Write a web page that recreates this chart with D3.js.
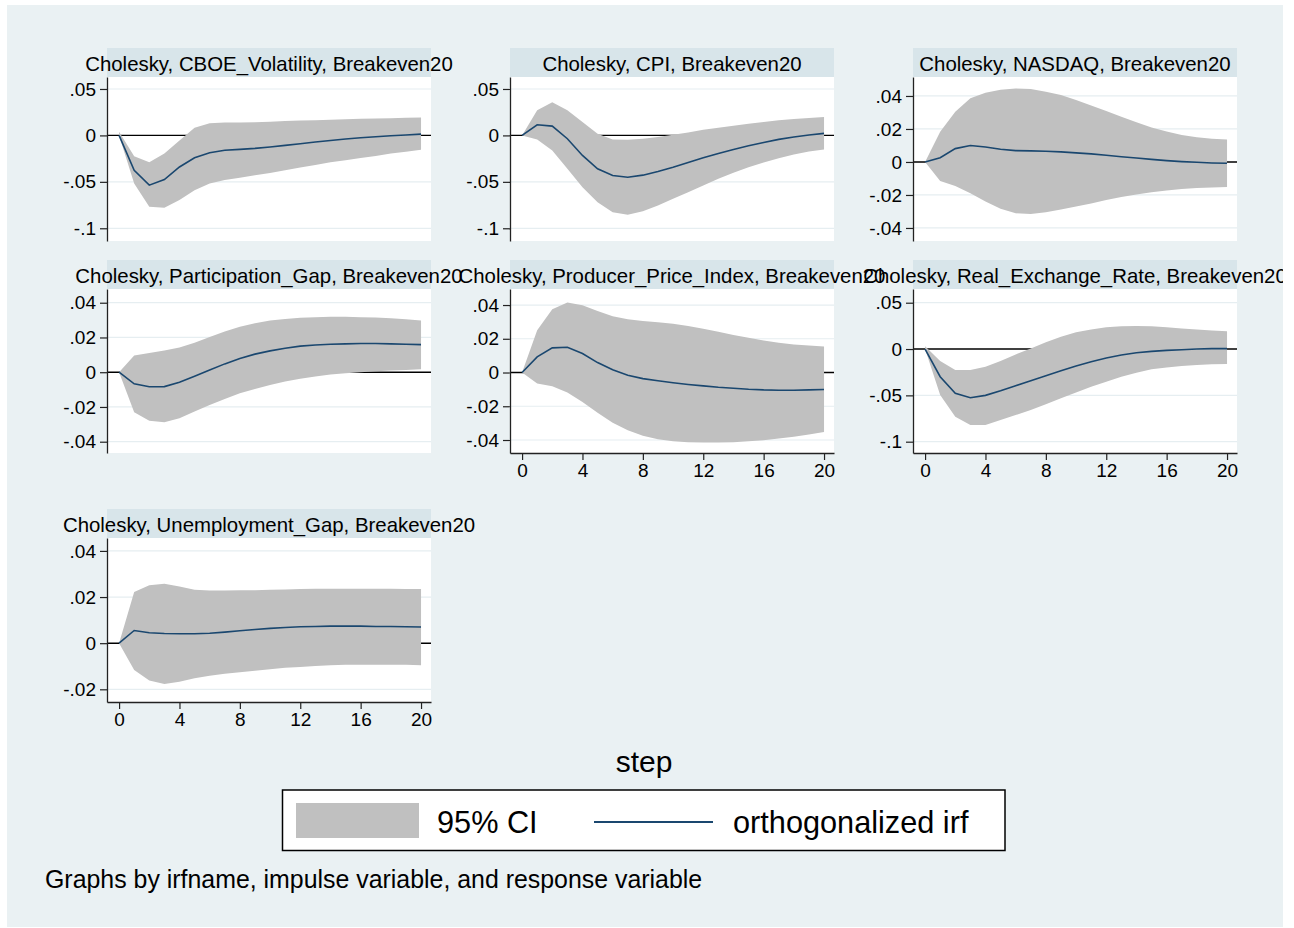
<!DOCTYPE html>
<html>
<head>
<meta charset="utf-8">
<script src="https://cdn.jsdelivr.net/npm/d3@7"></script>
<style>
  html, body { margin: 0; padding: 0; background: #ffffff; }
  svg { display: block; }
  text { font-family: "Liberation Sans", Arial, Helvetica, sans-serif; fill: #000; }
</style>
</head>
<body>
<svg id="chart" width="1294" height="928"></svg>
<script>
// ---------------- data ----------------
const steps = [0,1,2,3,4,5,6,7,8,9,10,11,12,13,14,15,16,17,18,19,20];
const xTicks = [0, 4, 8, 12, 16, 20];

const panelTitles = [
  "Cholesky, CBOE_Volatility, Breakeven20",
  "Cholesky, CPI, Breakeven20",
  "Cholesky, NASDAQ, Breakeven20",
  "Cholesky, Participation_Gap, Breakeven20",
  "Cholesky, Producer_Price_Index, Breakeven20",
  "Cholesky, Real_Exchange_Rate, Breakeven20",
  "Cholesky, Unemployment_Gap, Breakeven20"
];

// orthogonalized irf
const irfCBOE = [0, -0.0375, -0.0536, -0.0475, -0.034, -0.024, -0.0186, -0.016, -0.015, -0.014, -0.0125, -0.0107, -0.009, -0.0071, -0.0054, -0.0039, -0.0025, -0.0014, -0.0004, 0.0004, 0.0014];
const hiCBOE  = [0.004, -0.0225, -0.029, -0.0196, -0.0054, 0.0082, 0.0132, 0.0139, 0.0139, 0.0143, 0.0146, 0.0154, 0.016, 0.0164, 0.0168, 0.0175, 0.0179, 0.0182, 0.0186, 0.0189, 0.0193];
const loCBOE  = [0, -0.0518, -0.0768, -0.0779, -0.0696, -0.059, -0.0518, -0.048, -0.0457, -0.0429, -0.0404, -0.0375, -0.0346, -0.0318, -0.029, -0.0268, -0.0243, -0.0221, -0.0196, -0.0175, -0.0154];

const irfCPI = [0, 0.0115, 0.010, -0.0036, -0.0216, -0.036, -0.0432, -0.045, -0.0428, -0.0389, -0.0342, -0.0291, -0.0241, -0.0194, -0.0151, -0.0112, -0.0076, -0.0043, -0.0018, 0.0004, 0.0022];
const hiCPI  = [0, 0.027, 0.0356, 0.027, 0.0144, 0.0018, -0.0043, -0.0047, -0.0036, -0.0018, 0.0007, 0.0032, 0.0061, 0.0083, 0.0104, 0.0126, 0.0144, 0.0162, 0.0176, 0.0187, 0.0198];
const loCPI  = [0, -0.0043, -0.0162, -0.036, -0.0558, -0.072, -0.0827, -0.0853, -0.0817, -0.0755, -0.0683, -0.0612, -0.054, -0.0468, -0.0403, -0.0342, -0.0291, -0.0245, -0.0205, -0.0173, -0.0151];

const irfNASDAQ = [0, 0.0026, 0.0081, 0.01, 0.0091, 0.0077, 0.0069, 0.0067, 0.0065, 0.0061, 0.0055, 0.0049, 0.0041, 0.0032, 0.0024, 0.0016, 0.0008, 0.0002, -0.0002, -0.0006, -0.0008];
const hiNASDAQ  = [0, 0.0183, 0.0305, 0.0386, 0.042, 0.0437, 0.0445, 0.0443, 0.0426, 0.0406, 0.0376, 0.0343, 0.0309, 0.0274, 0.024, 0.0209, 0.0185, 0.0164, 0.015, 0.014, 0.0136];
const loNASDAQ  = [0, -0.0116, -0.0146, -0.0189, -0.024, -0.0284, -0.0311, -0.0315, -0.0305, -0.0288, -0.027, -0.0252, -0.0231, -0.0213, -0.0197, -0.0183, -0.0173, -0.0164, -0.0158, -0.0154, -0.0152];

const irfPart = [0, -0.0067, -0.0084, -0.0083, -0.0058, -0.0023, 0.0013, 0.0048, 0.0079, 0.0104, 0.0123, 0.0138, 0.015, 0.0157, 0.0161, 0.0163, 0.0165, 0.0165, 0.0163, 0.0161, 0.0159];
const hiPart  = [0, 0.0096, 0.0111, 0.0125, 0.0142, 0.0169, 0.0202, 0.0234, 0.0261, 0.0282, 0.0298, 0.0307, 0.0313, 0.0317, 0.0319, 0.0319, 0.0317, 0.0315, 0.0311, 0.0305, 0.0298];
const loPart  = [0, -0.023, -0.028, -0.0288, -0.0265, -0.0226, -0.0188, -0.0154, -0.0121, -0.0096, -0.0073, -0.0054, -0.0038, -0.0025, -0.0013, -0.0006, 0, 0.0006, 0.001, 0.0013, 0.0017];

const irfPPI = [0, 0.0093, 0.0146, 0.015, 0.0113, 0.0059, 0.0016, -0.0016, -0.0036, -0.0049, -0.0061, -0.0071, -0.0079, -0.0087, -0.0093, -0.0099, -0.0103, -0.0105, -0.0105, -0.0103, -0.0101];
const hiPPI  = [0, 0.0251, 0.0375, 0.0415, 0.0399, 0.0364, 0.0334, 0.0316, 0.0306, 0.0298, 0.0289, 0.0275, 0.0259, 0.0241, 0.0223, 0.0206, 0.019, 0.0176, 0.0166, 0.016, 0.0154];
const loPPI  = [0, -0.0065, -0.0081, -0.0119, -0.0174, -0.0239, -0.0298, -0.0342, -0.0375, -0.0395, -0.0407, -0.0413, -0.0415, -0.0415, -0.0413, -0.0407, -0.0401, -0.0391, -0.0381, -0.0368, -0.0352];

const irfRER = [0, -0.0299, -0.0478, -0.0525, -0.05, -0.045, -0.0396, -0.0342, -0.0288, -0.0234, -0.0183, -0.0137, -0.0097, -0.0065, -0.004, -0.0025, -0.0014, -0.0007, 0, 0.0004, 0.0004];
const hiRER  = [0.003, -0.013, -0.0227, -0.0227, -0.019, -0.013, -0.0058, 0.0007, 0.0072, 0.0133, 0.018, 0.0212, 0.0234, 0.0245, 0.0248, 0.0245, 0.0234, 0.0223, 0.0212, 0.0201, 0.0191];
const loRER  = [0, -0.0496, -0.073, -0.082, -0.082, -0.0766, -0.0712, -0.0658, -0.0597, -0.0532, -0.0468, -0.0406, -0.0353, -0.0299, -0.0255, -0.0219, -0.0198, -0.0183, -0.0173, -0.0165, -0.0162];

const irfUnemp = [0, 0.0055, 0.0045, 0.0042, 0.0041, 0.0041, 0.0043, 0.0048, 0.0054, 0.0059, 0.0064, 0.0068, 0.0071, 0.0072, 0.0074, 0.0074, 0.0074, 0.0072, 0.0072, 0.0071, 0.007];
const hiUnemp  = [0, 0.0222, 0.0251, 0.0258, 0.0246, 0.0232, 0.0228, 0.0228, 0.0229, 0.023, 0.0232, 0.0233, 0.0235, 0.0236, 0.0236, 0.0236, 0.0236, 0.0236, 0.0236, 0.0235, 0.0235];
const loUnemp  = [0, -0.0116, -0.0162, -0.0177, -0.0167, -0.0152, -0.0141, -0.0133, -0.0126, -0.0119, -0.0113, -0.0107, -0.0103, -0.0099, -0.0096, -0.0094, -0.0093, -0.0093, -0.0094, -0.0094, -0.0096];

const yTicksP1 = [-0.1, -0.05, 0, 0.05];
const yTicksP2 = [-0.1, -0.05, 0, 0.05];
const yTicksP3 = [-0.04, -0.02, 0, 0.02, 0.04];
const yTicksP4 = [-0.04, -0.02, 0, 0.02, 0.04];
const yTicksP5 = [-0.04, -0.02, 0, 0.02, 0.04];
const yTicksP6 = [-0.1, -0.05, 0, 0.05];
const yTicksP7 = [-0.02, 0, 0.02, 0.04];

// y-axis ranges (min, max) of each panel
const yRangeP1 = [-0.1137, 0.0629];
const yRangeP2 = [-0.1137, 0.0629];
const yRangeP3 = [-0.0479, 0.0515];
const yRangeP4 = [-0.0465, 0.0479];
const yRangeP5 = [-0.0477, 0.0495];
const yRangeP6 = [-0.1122, 0.0648];
const yRangeP7 = [-0.0255, 0.0456];
const xRange = [-0.8, 20.66];

const legendLabels = ["95% CI", "orthogonalized irf"];
const xAxisTitle = "step";
const noteText = "Graphs by irfname, impulse variable, and response variable";

// ---------------- layout & style ----------------
const COL_LEFT = [107, 510, 913];
const ROW_TOP = [77, 289, 538];
const PW = 324, PH = 164, STRIP = 29;
const BAND = "#c0c0c0", LINE = "#1a476f";
const BG = "#eaf1f3", STRIP_BG = "#d8e5ea", GRID = "#e6eef1";

const panels = [
  {t: panelTitles[0], irf: irfCBOE,   hi: hiCBOE,   lo: loCBOE,   yt: yTicksP1, yr: yRangeP1, r: 0, c: 0, xaxis: false},
  {t: panelTitles[1], irf: irfCPI,    hi: hiCPI,    lo: loCPI,    yt: yTicksP2, yr: yRangeP2, r: 0, c: 1, xaxis: false},
  {t: panelTitles[2], irf: irfNASDAQ, hi: hiNASDAQ, lo: loNASDAQ, yt: yTicksP3, yr: yRangeP3, r: 0, c: 2, xaxis: false},
  {t: panelTitles[3], irf: irfPart,   hi: hiPart,   lo: loPart,   yt: yTicksP4, yr: yRangeP4, r: 1, c: 0, xaxis: false},
  {t: panelTitles[4], irf: irfPPI,    hi: hiPPI,    lo: loPPI,    yt: yTicksP5, yr: yRangeP5, r: 1, c: 1, xaxis: true},
  {t: panelTitles[5], irf: irfRER,    hi: hiRER,    lo: loRER,    yt: yTicksP6, yr: yRangeP6, r: 1, c: 2, xaxis: true},
  {t: panelTitles[6], irf: irfUnemp,  hi: hiUnemp,  lo: loUnemp,  yt: yTicksP7, yr: yRangeP7, r: 2, c: 0, xaxis: true}
];

const fmt = v => v === 0 ? "0" : String(+v.toFixed(4)).replace("0.", ".");

const svg = d3.select("#chart");
svg.append("defs").append("clipPath").attr("id", "gclip")
  .append("rect").attr("x", 7).attr("y", 5).attr("width", 1276).attr("height", 922);
svg.append("rect").attr("x", 7).attr("y", 5).attr("width", 1276).attr("height", 922).attr("fill", BG);

// draw strips/plot regions first so overflowing titles sit on top
const layers = svg.append("g");
const titleLayer = svg.append("g").attr("clip-path", "url(#gclip)");

panels.forEach(p => {
  const left = COL_LEFT[p.c], top = ROW_TOP[p.r];
  const x = d3.scaleLinear().domain(xRange).range([0, PW]);
  const y = d3.scaleLinear().domain(p.yr).range([PH, 0]);
  const g = layers.append("g").attr("transform", `translate(${left},${top})`);

  // title strip
  g.append("rect").attr("x", 0).attr("y", -STRIP).attr("width", PW).attr("height", STRIP).attr("fill", STRIP_BG);
  // plot region
  g.append("rect").attr("x", 0).attr("y", 0).attr("width", PW).attr("height", PH).attr("fill", "#fff");

  // grid lines
  g.append("g").selectAll("line").data(p.yt.filter(v => v !== 0)).join("line")
    .attr("x1", 0).attr("x2", PW).attr("y1", d => y(d)).attr("y2", d => y(d))
    .attr("stroke", GRID).attr("stroke-width", 1.2);

  // zero reference line
  g.append("line").attr("x1", 0).attr("x2", PW).attr("y1", y(0)).attr("y2", y(0))
    .attr("stroke", "#000").attr("stroke-width", 1.4);

  // CI band
  const area = d3.area().x((d, i) => x(steps[i])).y0((d, i) => y(p.lo[i])).y1((d, i) => y(p.hi[i]));
  g.append("path").datum(steps).attr("d", area).attr("fill", BAND);

  // irf line
  const line = d3.line().x((d, i) => x(steps[i])).y(d => y(d));
  g.append("path").datum(p.irf).attr("d", line).attr("fill", "none")
    .attr("stroke", LINE).attr("stroke-width", 1.6);

  // y axis
  const ya = g.append("g").call(d3.axisLeft(y).tickValues(p.yt).tickFormat(fmt).tickSize(7).tickSizeOuter(0).tickPadding(4));
  ya.select(".domain").attr("stroke", "#222").attr("stroke-width", 1.3);
  ya.selectAll(".tick line").attr("stroke", "#222").attr("stroke-width", 1.2);
  ya.selectAll(".tick text").style("font-size", "19px").attr("fill", "#000")
    .style("font-family", '"Liberation Sans", Arial, Helvetica, sans-serif');

  if (p.xaxis) {
    const xa = g.append("g").attr("transform", `translate(0,${PH})`)
      .call(d3.axisBottom(x).tickValues(xTicks).tickFormat(d3.format("d")).tickSize(7).tickSizeOuter(0).tickPadding(4));
    xa.select(".domain").attr("stroke", "#222").attr("stroke-width", 1.3);
    xa.selectAll(".tick line").attr("stroke", "#222").attr("stroke-width", 1.2);
    xa.selectAll(".tick text").style("font-size", "19px").attr("fill", "#000")
      .style("font-family", '"Liberation Sans", Arial, Helvetica, sans-serif');
  }

  // panel title
  titleLayer.append("text").attr("x", left + PW / 2).attr("y", top - 6.5)
    .attr("text-anchor", "middle").style("font-size", "20.4px").text(p.t);
});

// x axis title
svg.append("text").attr("x", 644).attr("y", 772).attr("text-anchor", "middle")
  .style("font-size", "30px").text(xAxisTitle);

// legend
const lg = svg.append("g");
lg.append("rect").attr("x", 282.5).attr("y", 790).attr("width", 722.5).attr("height", 60.5)
  .attr("fill", "#fff").attr("stroke", "#000").attr("stroke-width", 1.5);
lg.append("rect").attr("x", 296).attr("y", 803).attr("width", 123).attr("height", 35).attr("fill", BAND);
lg.append("text").attr("x", 437).attr("y", 833).style("font-size", "30.7px").text(legendLabels[0]);
lg.append("line").attr("x1", 594).attr("x2", 713).attr("y1", 822).attr("y2", 822)
  .attr("stroke", LINE).attr("stroke-width", 2.2);
lg.append("text").attr("x", 733).attr("y", 833).style("font-size", "30.7px").text(legendLabels[1]);

// note
svg.append("text").attr("x", 45).attr("y", 888).style("font-size", "24.9px").text(noteText);
</script>
</body>
</html>
